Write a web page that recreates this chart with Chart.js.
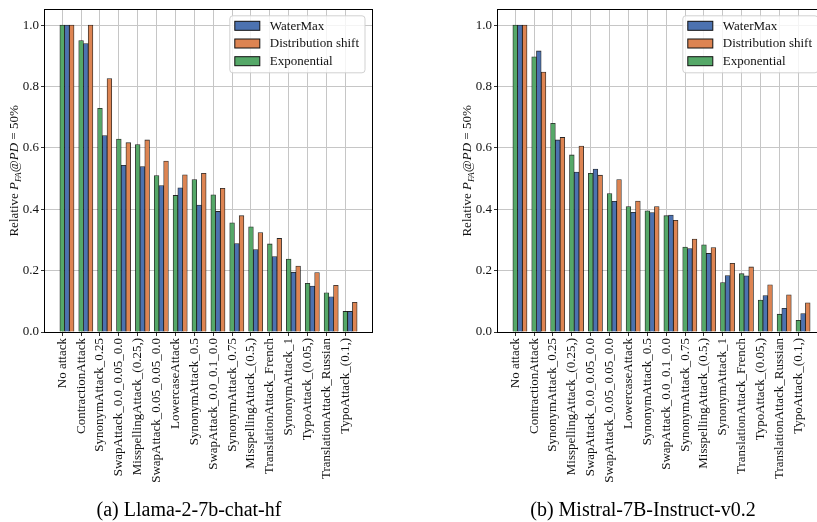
<!DOCTYPE html>
<html>
<head>
<meta charset="utf-8">
<script src="https://cdn.jsdelivr.net/npm/chart.js@4.4.0/dist/chart.umd.min.js"></script>
<style>
  html, body { margin: 0; padding: 0; background: #fff; width: 817px; height: 522px; overflow: hidden; }
  .panel { position: absolute; top: 0; height: 522px; }
  #panelA { left: 0; width: 408px; }
  #panelB { left: 408px; width: 420px; }
  .caption { position: absolute; top: 498px; line-height: 22px; font-family: 'Liberation Serif', 'Times New Roman', serif;
             font-size: 20px; color: #000; white-space: nowrap; transform: translateX(-50%); }
</style>
</head>
<body>
<div class="panel" id="panelA"><canvas id="chartA" width="408" height="522"></canvas></div>
<div class="panel" id="panelB"><canvas id="chartB" width="420" height="522"></canvas></div>
<div class="caption" style="left:189px">(a) Llama-2-7b-chat-hf</div>
<div class="caption" style="left:643px">(b) Mistral-7B-Instruct-v0.2</div>

<script>
// ---- Attack categories (each model has its own ordering) ----
const categoriesLlama = [
  'No attack', 'ContractionAttack', 'SynonymAttack_0.25', 'SwapAttack_0.0_0.05_0.0',
  'MisspellingAttack_(0.25,)', 'SwapAttack_0.05_0.05_0.0', 'LowercaseAttack', 'SynonymAttack_0.5',
  'SwapAttack_0.0_0.1_0.0', 'SynonymAttack_0.75', 'MisspellingAttack_(0.5,)', 'TranslationAttack_French',
  'SynonymAttack_1', 'TypoAttack_(0.05,)', 'TranslationAttack_Russian', 'TypoAttack_(0.1,)'
];
const categoriesMistral = [
  'No attack', 'ContractionAttack', 'SynonymAttack_0.25', 'MisspellingAttack_(0.25,)',
  'SwapAttack_0.0_0.05_0.0', 'SwapAttack_0.05_0.05_0.0', 'LowercaseAttack', 'SynonymAttack_0.5',
  'SwapAttack_0.0_0.1_0.0', 'SynonymAttack_0.75', 'MisspellingAttack_(0.5,)', 'SynonymAttack_1',
  'TranslationAttack_French', 'TypoAttack_(0.05,)', 'TranslationAttack_Russian', 'TypoAttack_(0.1,)'
];

// ---- Relative P_FA @ PD = 50% ----
const watermaxLlama    = [1.000, 0.940, 0.640, 0.543, 0.539, 0.477, 0.470, 0.414, 0.393, 0.288, 0.269, 0.246, 0.195, 0.150, 0.115, 0.067];
const shiftLlama       = [1.000, 1.000, 0.826, 0.617, 0.626, 0.557, 0.512, 0.517, 0.468, 0.379, 0.324, 0.305, 0.215, 0.194, 0.152, 0.097];
const exponentialLlama = [1.000, 0.950, 0.729, 0.629, 0.611, 0.510, 0.445, 0.497, 0.447, 0.356, 0.343, 0.287, 0.238, 0.159, 0.128, 0.067];

const watermaxMistral    = [1.000, 0.916, 0.626, 0.521, 0.531, 0.426, 0.390, 0.389, 0.381, 0.272, 0.256, 0.184, 0.183, 0.119, 0.077, 0.060];
const shiftMistral       = [1.000, 0.847, 0.634, 0.606, 0.511, 0.497, 0.427, 0.409, 0.364, 0.303, 0.275, 0.224, 0.212, 0.154, 0.121, 0.095];
const exponentialMistral = [1.000, 0.897, 0.680, 0.577, 0.517, 0.451, 0.409, 0.395, 0.379, 0.277, 0.284, 0.161, 0.190, 0.104, 0.058, 0.038];

const yTicks = [0.0, 0.2, 0.4, 0.6, 0.8, 1.0];
const seriesNames = ['WaterMax', 'Distribution shift', 'Exponential'];

// ---- Styling ----
const FONT = "'Liberation Serif', 'Times New Roman', serif";
const COLORS = { 'WaterMax': '#4C72B0', 'Distribution shift': '#DD8452', 'Exponential': '#55A868' };
// Slot of each series inside a group (Exponential sits on the tick, then WaterMax, then Distribution shift)
const SLOT = { 'Exponential': 0, 'WaterMax': 1, 'Distribution shift': 2 };
const BAR_W = 0.25;
const GRID = '#c6c6c6';

Chart.defaults.font.family = FONT;
Chart.defaults.font.size = 13;
Chart.defaults.color = '#111';

// Black frame around the plotting area
const framePlugin = {
  id: 'frame',
  afterDatasetsDraw(chart) {
    const { ctx, chartArea: a } = chart;
    ctx.save();
    ctx.strokeStyle = '#000';
    ctx.lineWidth = 1;
    const l = Math.round(a.left) - 0.5, t = Math.round(a.top) - 0.5;
    ctx.strokeRect(l, t, Math.round(a.right) - Math.round(a.left) + 1, Math.round(a.bottom) - Math.round(a.top) + 1);
    ctx.restore();
  }
};

// Boxed legend in the upper-right corner of the plotting area
const boxLegendPlugin = {
  id: 'boxLegend',
  afterDraw(chart) {
    const { ctx, chartArea: a } = chart;
    const sets = chart.data.datasets;
    ctx.save();
    ctx.font = `13px ${FONT}`;
    const textW = Math.max(...sets.map(d => ctx.measureText(d.label).width));
    const padL = 5, handleW = 25, handleH = 9, gap = 10, padR = 6, rowH = 17.7;
    const w = padL + handleW + gap + textW + padR;
    const h = 57;
    const right = a.right - 7, top = a.top + 6, left = right - w;
    ctx.beginPath();
    ctx.roundRect(left, top, w, h, 3);
    ctx.fillStyle = 'rgba(255,255,255,0.8)';
    ctx.fill();
    ctx.strokeStyle = 'rgba(204,204,204,0.9)';
    ctx.lineWidth = 1;
    ctx.stroke();
    sets.forEach((d, i) => {
      const cy = top + 10 + i * rowH;
      const hx = left + padL;
      ctx.fillStyle = d.backgroundColor;
      ctx.fillRect(hx, cy - handleH / 2, handleW, handleH);
      ctx.strokeStyle = '#111';
      ctx.lineWidth = 1;
      ctx.strokeRect(hx, cy - handleH / 2, handleW, handleH);
      ctx.fillStyle = '#111';
      ctx.textBaseline = 'middle';
      ctx.textAlign = 'left';
      ctx.fillText(d.label, hx + handleW + gap, cy + 0.5);
    });
    ctx.restore();
  }
};

// Y-axis title with math-style italic symbols and subscript
const yTitlePlugin = {
  id: 'yTitle',
  afterDraw(chart) {
    const { ctx, chartArea: a } = chart;
    const parts = [
      { t: 'Relative ', f: `13px ${FONT}`, dy: 0 },
      { t: 'P', f: `italic 13px ${FONT}`, dy: 0 },
      { t: 'FA', f: `italic 9px ${FONT}`, dy: 3 },
      { t: '@', f: `13px ${FONT}`, dy: 0 },
      { t: 'PD', f: `italic 13px ${FONT}`, dy: 0 },
      { t: ' = 50%', f: `13px ${FONT}`, dy: 0 }
    ];
    ctx.save();
    let total = 0;
    parts.forEach(p => { ctx.font = p.f; p.w = ctx.measureText(p.t).width; total += p.w; });
    ctx.translate(a.left - 32, (a.top + a.bottom) / 2);
    ctx.rotate(-Math.PI / 2);
    ctx.fillStyle = '#111';
    ctx.textBaseline = 'alphabetic';
    ctx.textAlign = 'left';
    let x = -total / 2;
    parts.forEach(p => { ctx.font = p.f; ctx.fillText(p.t, x, 4.5 + p.dy); x += p.w; });
    ctx.restore();
  }
};

function buildChart(canvasId, categories, values, padLeft, padRight) {
  const datasets = seriesNames.map(name => ({
    label: name,
    data: values[name].map((v, i) => ({ x: i + SLOT[name] * BAR_W, y: v })),
    backgroundColor: COLORS[name],
    borderColor: 'rgba(0,0,0,0.85)',
    borderWidth: 0.8,
    grouped: false,
    barPercentage: 1,
    categoryPercentage: 1
  }));
  const lo = -BAR_W / 2, hi = categories.length - 1 + 2 * BAR_W + BAR_W / 2;
  const margin = 0.05 * (hi - lo);

  return new Chart(document.getElementById(canvasId), {
    type: 'bar',
    data: { datasets },
    options: {
      responsive: false,
      animation: false,
      devicePixelRatio: 1,
      layout: { padding: { left: padLeft, right: padRight, top: 8, bottom: 0 }, autoPadding: false },
      plugins: { legend: { display: false }, tooltip: { enabled: false } },
      scales: {
        x: {
          type: 'linear',
          min: lo - margin,
          max: hi + margin,
          offset: false,
          grid: { offset: false, color: GRID, lineWidth: 1, tickColor: '#333', tickLength: 4, tickWidth: 1 },
          border: { display: false },
          afterBuildTicks: s => { s.ticks = categories.map((_, i) => ({ value: i })); },
          afterFit: s => { s.height = 190; },
          ticks: {
            autoSkip: false, minRotation: 90, maxRotation: 90, padding: 2,
            font: { size: 13 },
            callback: (v, i) => categories[i]
          }
        },
        y: {
          min: 0,
          max: 1.05,
          grid: { color: GRID, lineWidth: 1, tickColor: '#333', tickLength: 4, tickWidth: 1 },
          border: { display: false },
          afterBuildTicks: s => { s.ticks = yTicks.map(v => ({ value: v })); },
          afterFit: s => { s.width = 45; },
          ticks: { padding: 2, font: { size: 13 }, callback: v => Number(v).toFixed(1) }
        }
      }
    },
    plugins: [framePlugin, boxLegendPlugin, yTitlePlugin]
  });
}

buildChart('chartA', categoriesLlama,
  { 'WaterMax': watermaxLlama, 'Distribution shift': shiftLlama, 'Exponential': exponentialLlama }, 0, 36);
buildChart('chartB', categoriesMistral,
  { 'WaterMax': watermaxMistral, 'Distribution shift': shiftMistral, 'Exponential': exponentialMistral }, 45, 3);
</script>
</body>
</html>
